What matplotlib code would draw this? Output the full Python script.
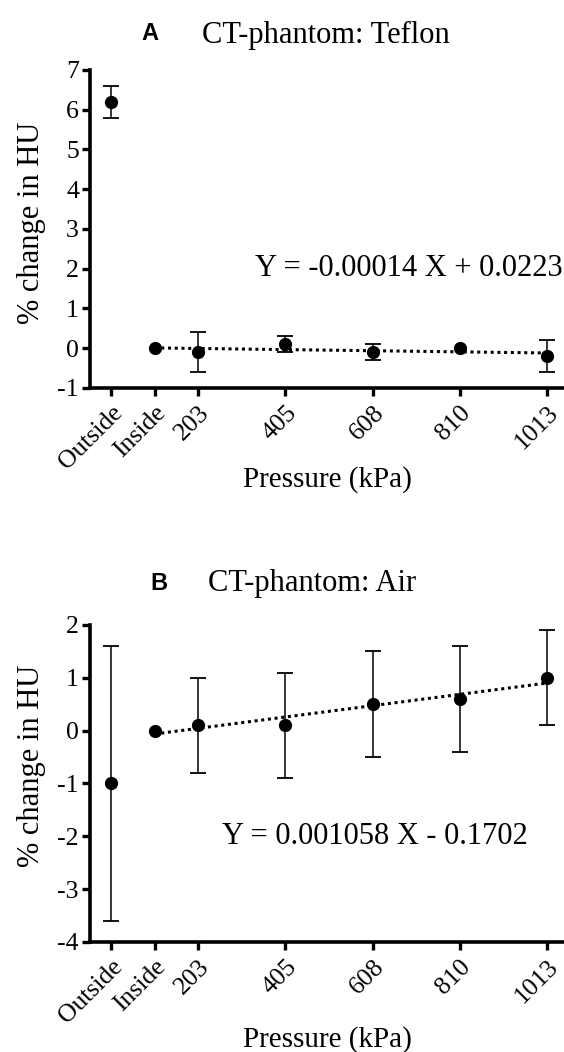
import matplotlib
matplotlib.use("Agg")
import matplotlib.pyplot as plt
import numpy as np

plt.rcParams['font.family'] = ['Liberation Serif', 'DejaVu Serif']
plt.rcParams['axes.unicode_minus'] = False

# group positions on the pressure axis (Outside / Inside put at 0 and 101 kPa)
pos = [0, 101, 203, 405, 608, 810, 1013]
tick_labels = ["Outside", "Inside", "203", "405", "608", "810", "1013"]

teflon_mean = [6.2, 0.0, -0.1, 0.1, -0.1, 0.0, -0.2]
teflon_err = [0.4, 0.0, 0.5, 0.2, 0.2, 0.0, 0.4]

air_mean = [-1.0, 0.0, 0.1, 0.1, 0.5, 0.6, 1.0]
air_err = [2.6, 0.0, 0.9, 1.0, 1.0, 1.0, 0.9]

fit_x = [101, 1013]
teflon_fit = (-0.00014, 0.0223)
air_fit = (0.001058, -0.1702)

teflon_eq = "Y = -0.00014 X + 0.0223"
air_eq = "Y = 0.001058 X - 0.1702"


def panel(ax, mean, err, fit, ylim, eq, eq_xy, ylab_y, xlab_y):
    x = np.array(pos)
    m = np.array(mean)
    e = np.array(err)
    fx = np.array(fit_x)
    ax.plot(fx, fit[0] * fx + fit[1], color='black', ls=(0, (1, 1.2)), lw=2.2, zorder=1)
    has = e > 0
    ax.errorbar(x[has], m[has], yerr=e[has], fmt='none', ecolor='black',
                elinewidth=1.1, capsize=6, capthick=1.3, zorder=2)
    ax.plot(x, m, 'o', color='black', ms=8.5, zorder=3)

    ax.set_xlim(-49, 1052.5)
    ax.set_ylim(*ylim)
    ax.set_yticks(range(ylim[0], ylim[1] + 1))
    ax.set_xticks(pos)
    ax.set_xticklabels(tick_labels, rotation=45, ha='right', rotation_mode='anchor')
    for s in ['top', 'right']:
        ax.spines[s].set_visible(False)
    for s in ['left', 'bottom']:
        ax.spines[s].set_linewidth(2.6)
    ax.tick_params(width=2.4, length=6, labelsize=18.5, pad=2)
    ax.tick_params(axis='x', pad=4)
    ax.set_ylabel("% change in HU", fontsize=22)
    ax.yaxis.set_label_coords(-0.092, ylab_y)
    ax.set_xlabel("Pressure (kPa)", fontsize=21)
    ax.xaxis.set_label_coords(0.50, xlab_y)
    ax.text(eq_xy[0], eq_xy[1], eq, fontsize=22, ha='left', va='center')


fig = plt.figure(figsize=(5.64, 10.52), dpi=100)
axA = fig.add_axes([0.1596, 0.6312, 0.8404, 0.3023])
axB = fig.add_axes([0.1596, 0.1046, 0.8404, 0.3013])

panel(axA, teflon_mean, teflon_err, teflon_fit, (-1, 7), teflon_eq, (335, 2), 0.52, -0.245)
panel(axB, air_mean, air_err, air_fit, (-4, 2), air_eq, (258, -2), 0.555, -0.265)

fig.text(141 / 564, 1 - 34 / 1052, "A", family=['Liberation Sans', 'DejaVu Sans'],
         weight='bold', fontsize=17, va='center')
fig.text(202 / 564, 1 - 35 / 1052, "CT-phantom: Teflon", fontsize=22, va='center')
fig.text(150 / 564, 1 - 583 / 1052, "B", family=['Liberation Sans', 'DejaVu Sans'],
         weight='bold', fontsize=17, va='center')
fig.text(208 / 564, 1 - 584 / 1052, "CT-phantom: Air", fontsize=22, va='center')

fig.savefig("out.png", dpi=100)
